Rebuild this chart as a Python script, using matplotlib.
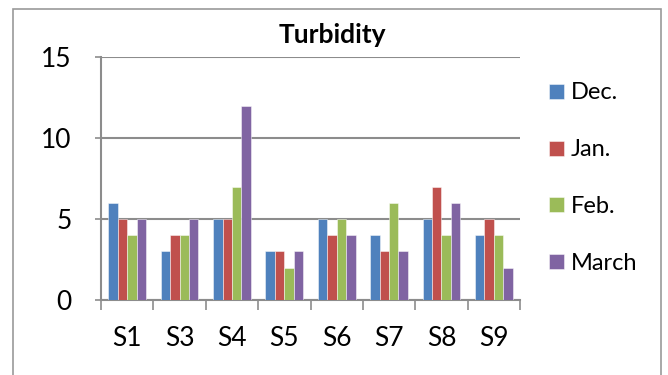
import matplotlib
matplotlib.use("Agg")
import matplotlib.pyplot as plt
import numpy as np
from matplotlib.patches import Rectangle

sites = ["S1", "S3", "S4", "S5", "S6", "S7", "S8", "S9"]
dec = [6, 3, 5, 3, 5, 4, 5, 4]
jan = [5, 4, 5, 3, 4, 3, 7, 5]
feb = [4, 4, 7, 2, 5, 6, 4, 4]
march = [5, 5, 12, 3, 4, 3, 6, 2]
series_names = ["Dec.", "Jan.", "Feb.", "March"]
colors = ["#4F81BD", "#C0504D", "#9BBB59", "#8064A2"]
y_ticks = [0, 5, 10, 15]

plt.rcParams["font.family"] = ["Lato", "DejaVu Sans"]

fig = plt.figure(figsize=(6.68, 3.75), dpi=100)
fig.patch.set_facecolor("white")

# chart frame
fig.add_artist(Rectangle((13 / 668, -0.05), (661 - 13) / 668, 1 - 9 / 375 + 0.05,
                         transform=fig.transFigure, fill=False,
                         edgecolor="#9a9a9a", linewidth=1.2))

ax = fig.add_axes([101 / 668, 1 - 300 / 375, (520 - 101) / 668, (300 - 57) / 375])

x = np.arange(len(sites))
w = 0.18
for i, (vals, name, c) in enumerate(zip([dec, jan, feb, march], series_names, colors)):
    ax.bar(x + (i - 1.5) * w, vals, width=w, color=c, label=name,
           edgecolor=(1, 1, 1, 0.55), linewidth=0.6, zorder=3)

ax.set_xlim(-0.5, len(sites) - 0.5)
ax.set_ylim(0, 15)
ax.set_yticks(y_ticks)
ax.set_yticklabels([str(t) for t in y_ticks], fontsize=19)
ax.yaxis.grid(True, color="#8c8c8c", linewidth=1.5, zorder=1)
ax.set_axisbelow(True)

ax.set_xticks(x)
ax.set_xticklabels(sites, fontsize=19)
ax.set_xticks(np.arange(-0.5, len(sites)), minor=True)
ax.tick_params(axis="x", which="major", length=0, pad=19)
ax.tick_params(axis="x", which="minor", length=7, width=1.2, color="#8c8c8c")
ax.tick_params(axis="y", length=4, width=1.2, color="#8c8c8c", pad=17)

for s in ["top", "right"]:
    ax.spines[s].set_visible(False)
for s in ["left", "bottom"]:
    ax.spines[s].set_color("#8c8c8c")
    ax.spines[s].set_linewidth(1.5)

fig.text(332 / 668, 1 - 35 / 375, "Turbidity", fontsize=19, fontweight="bold",
         ha="center", va="center")

ax.legend(loc="upper left", bbox_to_anchor=(540 / 668, 1 - 73 / 375),
          bbox_transform=fig.transFigure, frameon=False, fontsize=17,
          handlelength=0.6, handleheight=0.6, labelspacing=1.52,
          handletextpad=0.3, borderaxespad=0)

fig.savefig("out.png", dpi=100)
